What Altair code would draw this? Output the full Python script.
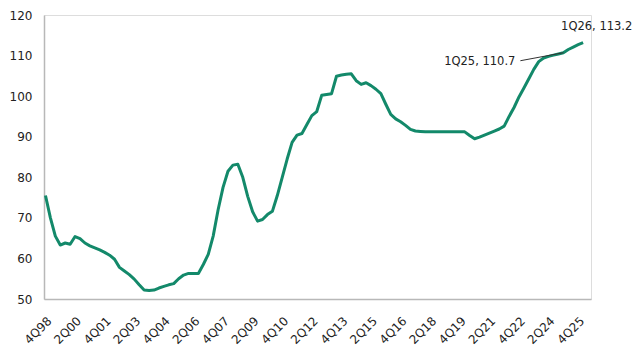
import altair as alt
import pandas as pd

# Quarterly index values, 4Q98 .. 1Q26
values = [
    75.5, 70.0, 65.5, 63.3, 63.8, 63.5, 65.4, 64.9, 63.8, 63.1,
    62.6, 62.1, 61.5, 60.8, 59.8, 57.8, 56.9, 56.0, 54.9, 53.5,
    52.2, 52.1, 52.2, 52.7, 53.1, 53.5, 53.8, 55.0, 55.9, 56.3,
    56.3, 56.3, 58.5, 61.0, 65.5, 72.0, 77.5, 81.5, 83.0, 83.2,
    80.0, 75.3, 71.5, 69.2, 69.6, 70.8, 71.6, 75.5, 80.0, 84.5,
    88.6, 90.4, 90.8, 93.0, 95.2, 96.2, 100.2, 100.4, 100.6, 104.9,
    105.2, 105.4, 105.5, 103.8, 102.9, 103.3, 102.6, 101.7, 100.6, 98.0,
    95.5, 94.4, 93.7, 92.8, 91.8, 91.4, 91.3, 91.2, 91.2, 91.2,
    91.2, 91.2, 91.2, 91.2, 91.2, 91.2, 90.3, 89.5, 89.9, 90.4,
    90.9, 91.4, 91.9, 92.6, 95.0, 97.2, 99.8, 102.0, 104.3, 106.6,
    108.5, 109.4, 109.8, 110.1, 110.4, 110.7, 111.5, 112.1, 112.7, 113.2,
]

# Quarter category names
quarters = ["4Q98"]
for yr in range(1999, 2027):
    for q in range(1, 5):
        quarters.append(f"{q}Q{yr % 100:02d}")
quarters = quarters[:len(values)]

tick_labels = ["4Q98", "2Q00", "4Q01", "2Q03", "4Q04", "2Q06", "4Q07", "2Q09",
               "4Q10", "2Q12", "4Q13", "2Q15", "4Q16", "2Q18", "4Q19", "2Q21",
               "4Q22", "2Q24", "4Q25"]
tick_positions = [quarters.index(t) for t in tick_labels]

ann_quarters = ["1Q25", "1Q26"]
ann_text = ["1Q25, 110.7", "1Q26, 113.2"]

df = pd.DataFrame({"i": list(range(len(values))), "q": quarters, "v": values})
ann = pd.DataFrame({
    "i": [quarters.index(q) for q in ann_quarters],
    "v": [values[quarters.index(q)] for q in ann_quarters],
    "t": ann_text,
})

label_expr = "{" + ",".join(f"'{p}':'{t}'" for p, t in zip(tick_positions, tick_labels)) + "}[datum.value]"

FONT = "DejaVu Sans"
x_scale = alt.Scale(domain=[-0.3, 110.6], nice=False, zero=False)
y_scale = alt.Scale(domain=[50, 120], nice=False, zero=False)

x_axis = alt.Axis(
    values=tick_positions, labelExpr=label_expr, labelAngle=-45, title=None,
    grid=False, ticks=False, domainColor="#b8b8b8", domainWidth=1.5,
    labelFont=FONT, labelFontSize=12, labelColor="#222222", labelPadding=16,
    labelOverlap=False, labelFlush=False, labelBound=False)
y_axis = alt.Axis(
    values=[50, 60, 70, 80, 90, 100, 110, 120], title=None, grid=False,
    ticks=False, domainColor="#b8b8b8", domainWidth=1.5, labelFont=FONT,
    labelFontSize=12, labelColor="#222222", labelPadding=12, labelOverlap=False)

x_enc = alt.X("i:Q", scale=x_scale, axis=x_axis)
y_enc = alt.Y("v:Q", scale=y_scale, axis=y_axis)

line = alt.Chart(df).mark_line(color="#13896A", strokeWidth=3, strokeJoin="round").encode(
    x=x_enc, y=y_enc)

a25 = ann[ann["t"] == ann_text[0]]
a26 = ann[ann["t"] == ann_text[1]]

leader = alt.Chart(a25).mark_rule(color="#333333", strokeWidth=1, x2Offset=-43, y2Offset=8).encode(
    x=x_enc, y=y_enc, x2="i:Q", y2="v:Q")
t25 = alt.Chart(a25).mark_text(font=FONT, fontSize=11.5, color="#222222", align="right",
                               baseline="middle", dx=-48, dy=9).encode(x=x_enc, y=y_enc, text="t:N")
t26 = alt.Chart(a26).mark_text(font=FONT, fontSize=11.5, color="#222222", align="left",
                               baseline="middle", dx=-22, dy=-15.5).encode(x=x_enc, y=y_enc, text="t:N")

chart = alt.layer(line, leader, t25, t26).properties(
    width=547, height=284,
    autosize=alt.AutoSizeParams(type="none"),
    padding={"left": 44, "top": 15, "right": 42, "bottom": 51},
).configure_view(stroke=None).configure_axis(labelOverlap=False).configure(background="white")

chart.save("out.html", embed_options={"renderer": "svg", "actions": False})
